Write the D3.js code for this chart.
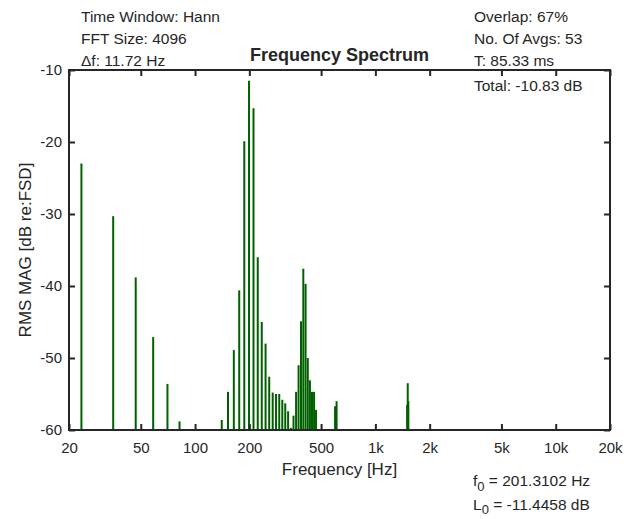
<!DOCTYPE html>
<html>
<head>
<meta charset="utf-8">
<script src="https://cdn.jsdelivr.net/npm/d3@7"></script>
<style>
    body { margin: 0; background: #fff; }
    svg text { font-family: "Liberation Sans", Arial, sans-serif; fill: #262626; }
    .axis line { stroke: #262626; stroke-width: 2; }
    .axis path { display: none; }
</style>
</head>
<body>
<div id="chart"></div>
<script>
// spectrum bins (Hz) and RMS magnitude (dB re:FSD)
const freqs = [23.44, 35.16, 46.88, 58.59, 70.31, 82.03,
    140.63, 152.34, 164.06, 175.78, 187.50, 199.22, 210.94, 222.66, 234.38, 246.09,
    257.81, 269.53, 281.25, 292.97, 304.69, 316.41, 328.13, 339.84, 351.56, 363.28,
    375.00, 386.72, 398.44, 410.16, 421.88, 433.59, 445.31, 457.03, 468.75,
    597.66, 609.38, 1500.00, 1511.72, 1523.44];
const levels = [-23.0, -30.3, -38.8, -47.1, -53.6, -58.8,
    -58.6, -54.7, -48.9, -40.6, -19.9, -11.5, -15.3, -36.0, -45.0, -48.0,
    -52.6, -54.8, -55.0, -55.0, -55.8, -56.3, -57.4, -59.7, -58.0, -54.7,
    -51.0, -44.9, -37.6, -39.7, -50.0, -53.1, -54.7, -54.7, -57.2,
    -56.7, -56.0, -56.5, -53.5, -56.0];

const xTicks = [20, 50, 100, 200, 500, 1000, 2000, 5000, 10000, 20000];
const xTickLabels = ["20", "50", "100", "200", "500", "1k", "2k", "5k", "10k", "20k"];
const yTicks = [-60, -50, -40, -30, -20, -10];

const infoLeft = ["Time Window: Hann", "FFT Size: 4096", "\u0394f: 11.72 Hz"];
const infoRight = ["Overlap: 67%", "No. Of Avgs: 53", "T: 85.33 ms"];
const totalText = "Total: -10.83 dB";

let margin = { top: 70, right: 24, bottom: 89, left: 69 };
let width = 634 - margin.left - margin.right;
let height = 519 - margin.top - margin.bottom;

let svg = d3.select("#chart").append("svg")
    .attr("width", 634)
    .attr("height", 519);

let g = svg.append("g")
    .attr("transform", `translate(${margin.left},${margin.top})`);

// scales
let x = d3.scaleLog().domain([20, 20000]).range([0, width]);
let y = d3.scaleLinear().domain([-60, -10]).range([height, 0]);

// bars (stems from the floor)
let data = freqs.map((f, i) => ({ f: f, v: levels[i] }));
g.selectAll(".bar")
    .data(data)
    .enter().append("line")
    .attr("class", "bar")
    .attr("x1", d => x(d.f))
    .attr("x2", d => x(d.f))
    .attr("y1", y(-60))
    .attr("y2", d => y(d.v))
    .attr("stroke", "#006000")
    .attr("stroke-width", 2);

// axes, ticks point inward
let xAxis = d3.axisBottom(x).tickValues(xTicks)
    .tickFormat((d, i) => xTickLabels[i])
    .tickSizeInner(-6).tickSizeOuter(0).tickPadding(12.5);
let yAxis = d3.axisLeft(y).tickValues(yTicks)
    .tickFormat(d => String(d))
    .tickSizeInner(-6).tickSizeOuter(0).tickPadding(7);

g.append("g").attr("class", "axis")
    .attr("transform", `translate(0,${height})`)
    .call(xAxis)
    .selectAll("text").style("font-size", "15px");
g.append("g").attr("class", "axis")
    .call(yAxis)
    .selectAll("text").style("font-size", "15px");
g.append("g").attr("class", "axis")
    .call(d3.axisTop(x).tickValues(xTicks).tickFormat("").tickSizeInner(-6).tickSizeOuter(0));
g.append("g").attr("class", "axis")
    .attr("transform", `translate(${width},0)`)
    .call(d3.axisRight(y).tickValues(yTicks).tickFormat("").tickSizeInner(-6).tickSizeOuter(0));

// box
g.append("rect")
    .attr("width", width)
    .attr("height", height)
    .attr("fill", "none")
    .attr("stroke", "#262626")
    .attr("stroke-width", 2);

// axis titles
g.append("text")
    .attr("x", width / 2)
    .attr("y", height + 45)
    .attr("text-anchor", "middle")
    .style("font-size", "17px")
    .text("Frequency [Hz]");

g.append("text")
    .attr("transform", "rotate(-90)")
    .attr("x", -height / 2)
    .attr("y", -margin.left + 31)
    .attr("text-anchor", "middle")
    .style("font-size", "17px")
    .text("RMS MAG [dB re:FSD]");

// title
svg.append("text")
    .attr("x", margin.left + width / 2)
    .attr("y", 61)
    .attr("text-anchor", "middle")
    .style("font-size", "18px")
    .style("font-weight", "bold")
    .text("Frequency Spectrum");

// info text
infoLeft.forEach((t, i) => {
    svg.append("text")
        .attr("x", 81)
        .attr("y", 21.5 + i * 22)
        .style("font-size", "15.5px")
        .text(t);
});
infoRight.forEach((t, i) => {
    svg.append("text")
        .attr("x", 474)
        .attr("y", 21.5 + i * 22)
        .style("font-size", "15.5px")
        .text(t);
});
svg.append("text")
    .attr("x", 474)
    .attr("y", 91)
    .style("font-size", "15.5px")
    .text(totalText);

// f0 / L0 readouts
let f0 = svg.append("text").attr("x", 473).attr("y", 486).style("font-size", "15.5px");
f0.append("tspan").text("f");
f0.append("tspan").attr("dy", 5).style("font-size", "13px").text("0");
f0.append("tspan").attr("dy", -5).text(" = 201.3102 Hz");

let l0 = svg.append("text").attr("x", 473).attr("y", 510).style("font-size", "15.5px");
l0.append("tspan").text("L");
l0.append("tspan").attr("dy", 4).style("font-size", "13px").text("0");
l0.append("tspan").attr("dy", -4).text(" = -11.4458 dB");
</script>
</body>
</html>
